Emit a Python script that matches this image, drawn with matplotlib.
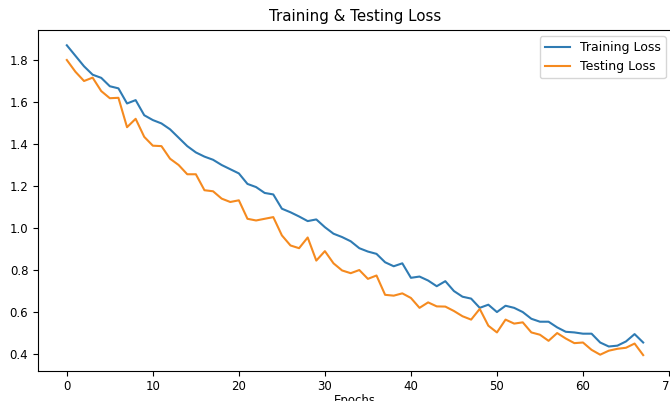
import matplotlib
matplotlib.use("Agg")
import matplotlib.pyplot as plt

epochs = list(range(68))
training_loss = [1.87, 1.82, 1.77, 1.73, 1.715, 1.675, 1.665, 1.593, 1.609, 1.537,
                 1.514, 1.498, 1.47, 1.43, 1.39, 1.36, 1.34, 1.325, 1.30, 1.28,
                 1.26, 1.21, 1.195, 1.167, 1.16, 1.092, 1.075, 1.055, 1.033, 1.041,
                 1.004, 0.973, 0.957, 0.937, 0.904, 0.888, 0.877, 0.837, 0.818, 0.832,
                 0.763, 0.769, 0.75, 0.723, 0.747, 0.70, 0.673, 0.664, 0.62, 0.635,
                 0.60, 0.63, 0.62, 0.60, 0.568, 0.554, 0.554, 0.527, 0.506, 0.503,
                 0.497, 0.497, 0.455, 0.436, 0.44, 0.46, 0.495, 0.455]
testing_loss = [1.80, 1.744, 1.70, 1.716, 1.652, 1.618, 1.62, 1.48, 1.52, 1.434,
                1.392, 1.39, 1.33, 1.30, 1.256, 1.256, 1.18, 1.175, 1.14, 1.124,
                1.132, 1.044, 1.036, 1.044, 1.052, 0.965, 0.917, 0.904, 0.955, 0.845,
                0.89, 0.832, 0.798, 0.785, 0.80, 0.758, 0.774, 0.682, 0.678, 0.689,
                0.667, 0.62, 0.646, 0.627, 0.626, 0.605, 0.58, 0.564, 0.615, 0.535,
                0.503, 0.564, 0.545, 0.551, 0.503, 0.492, 0.463, 0.50, 0.474, 0.452,
                0.455, 0.42, 0.397, 0.416, 0.425, 0.43, 0.45, 0.395]

fig = plt.figure(figsize=(6.7, 4.01), dpi=100)
ax = fig.add_axes([38 / 670, (401 - 370.6) / 401, 634 / 670, 340.8 / 401])
ax.plot(epochs, training_loss, color="#2f7bb3", lw=1.5, label="Training Loss")
ax.plot(epochs, testing_loss, color="#f58a1f", lw=1.5, label="Testing Loss")
ax.set_title("Training & Testing Loss", fontsize=10.8)
ax.set_xlabel("Epochs", fontsize=8.5, labelpad=0.5)
ax.tick_params(labelsize=8.5)
ax.legend(loc="upper right", fontsize=9)
fig.savefig("out.png", dpi=100)
